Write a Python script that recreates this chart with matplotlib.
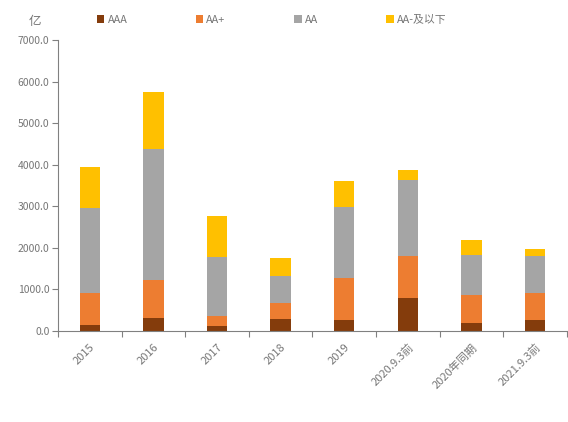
import matplotlib
matplotlib.use("Agg")
import matplotlib.pyplot as plt
import numpy as np

plt.rcParams['font.family'] = ['Noto Sans CJK SC', 'DejaVu Sans']

# issuance by rating, 亿元
categories = ["2015", "2016", "2017", "2018", "2019", "2020.9.3前", "2020年同期", "2021.9.3前"]
aaa = [140, 320, 120, 290, 265, 790, 200, 265]
aa_plus = [760, 900, 240, 380, 1000, 1000, 660, 640]
aa = [2050, 3170, 1420, 640, 1710, 1850, 960, 890]
aa_minus = [1000, 1360, 980, 450, 640, 240, 360, 170]

series = [
    ("AAA", aaa, "#843C0C"),
    ("AA+", aa_plus, "#ED7D31"),
    ("AA", aa, "#A5A5A5"),
    ("AA-及以下", aa_minus, "#FFC000"),
]

txt_color = '#767676'

fig = plt.figure(figsize=(5.68, 4.22), dpi=100)
ax = fig.add_axes([0.102, 0.216, 0.896, 0.689])

x = np.arange(len(categories))
bottom = np.zeros(len(categories))
handles = []
for name, vals, color in series:
    b = ax.bar(x, vals, width=0.32, bottom=bottom, color=color, label=name, zorder=2)
    handles.append(b)
    bottom += np.array(vals)

ax.set_xlim(-0.5, len(categories) - 0.5)
ax.set_ylim(0, 7000)
ax.set_yticks(np.arange(0, 7001, 1000))
ax.yaxis.set_major_formatter(matplotlib.ticker.FormatStrFormatter('%.1f'))

ax.set_xticks(x)
ax.set_xticklabels(categories, rotation=45, ha='right', rotation_mode='anchor')
ax.set_xticks(np.arange(-0.5, len(categories), 1.0), minor=True)
ax.tick_params(axis='x', which='major', length=0, pad=8, labelsize=8, labelcolor=txt_color)
ax.tick_params(axis='x', which='minor', length=4, color='#808080', width=0.8)
ax.tick_params(axis='y', length=4, color='#808080', width=0.8, labelsize=7.5, labelcolor=txt_color, pad=2)

for side in ['top', 'right']:
    ax.spines[side].set_visible(False)
for side in ['left', 'bottom']:
    ax.spines[side].set_color('#808080')
    ax.spines[side].set_linewidth(0.8)

fig.text(0.062, 0.948, "亿", fontsize=9, color=txt_color, ha='center', va='center')

fig.legend(handles=handles, loc='center left', bbox_to_anchor=(0.153, 0.953), ncol=4,
           frameon=False, fontsize=7.8, handlelength=0.7, handleheight=0.7,
           handletextpad=0.3, columnspacing=6.3, labelcolor=txt_color)

fig.savefig("out.png", dpi=100, facecolor='white')
